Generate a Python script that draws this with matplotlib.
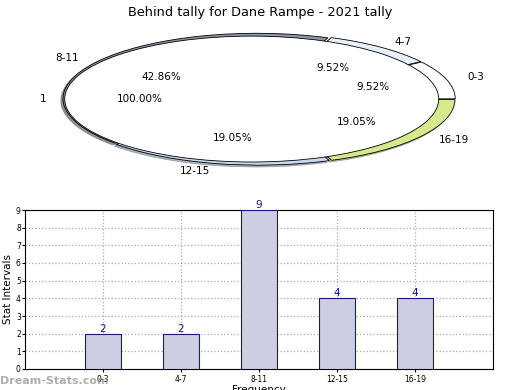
import matplotlib
matplotlib.use("Agg")
import matplotlib.pyplot as plt

# data
categories = ["0-3", "4-7", "8-11", "12-15", "16-19"]
counts = [2, 2, 9, 4, 4]
pie_colors = ["#ffffff", "#e8f0fb", "#8c96aa", "#c5d9f1", "#d4ea8c"]
title = "Behind tally for Dane Rampe - 2021 tally"

fig = plt.figure(figsize=(5.2, 3.9), dpi=100)
fig.suptitle(title, y=0.985, fontsize=9.3)

# --- elliptical pie on top ---
axp = fig.add_axes([0.498 - 0.4146, 0.746 - 0.1861, 0.8292, 0.3722])
axp.pie(counts, labels=categories, colors=pie_colors, autopct="%.2f%%",
        startangle=0, counterclock=True, explode=[0.012] * 5,
        shadow={"ox": -0.008, "oy": -0.02, "shade": 0.5},
        radius=0.99, pctdistance=0.6, labeldistance=1.11,
        wedgeprops=dict(edgecolor="black", linewidth=0.6),
        textprops=dict(fontsize=7.5))
axp.pie([1], labels=["1"], colors=["white"], autopct="%.2f%%",
        startangle=0, explode=[0.037],
        shadow={"ox": -0.012, "oy": -0.015, "shade": 0.5}, radius=0.954,
        pctdistance=0.6, labeldistance=1.1,
        wedgeprops=dict(edgecolor="black", linewidth=0.6),
        textprops=dict(fontsize=7.5))
axp.set_aspect("auto")
axp.set_xlim(-1.1, 1.1)
axp.set_ylim(-1.1, 1.1)
axp.axis("off")

# --- bar chart below ---
ax = fig.add_axes([25 / 520, 1 - 369 / 390, 468 / 520, 159 / 390])
x = list(range(len(categories)))
bars = ax.bar(x, counts, width=0.46, color="#cdcde3", edgecolor="#1a1a7a",
              linewidth=0.8, zorder=3)
for xi, c in zip(x, counts):
    ax.text(xi, c, str(c), ha="center", va="bottom", color="#1a1a8a",
            fontsize=7.5, zorder=4)
ax.set_xlim(-1, 5)
ax.set_ylim(0, 9)
ax.set_xticks(x)
ax.set_xticklabels(categories, fontsize=5.5)
ax.set_yticks(range(10))
ax.tick_params(axis="y", labelsize=5.5, length=2, pad=1)
ax.tick_params(axis="x", length=2, pad=2)
ax.grid(True, linestyle=":", color="#aaaaaa", linewidth=0.9)
ax.set_ylabel("Stat Intervals", fontsize=7.5, labelpad=2)
ax.set_xlabel("Frequency", fontsize=7.5, labelpad=1)

fig.text(0.0, 0.01, "Dream-Stats.com", color="#999999", fontsize=8,
         ha="left", va="bottom", fontweight="bold", alpha=0.8)

fig.savefig("out.png", dpi=100)
